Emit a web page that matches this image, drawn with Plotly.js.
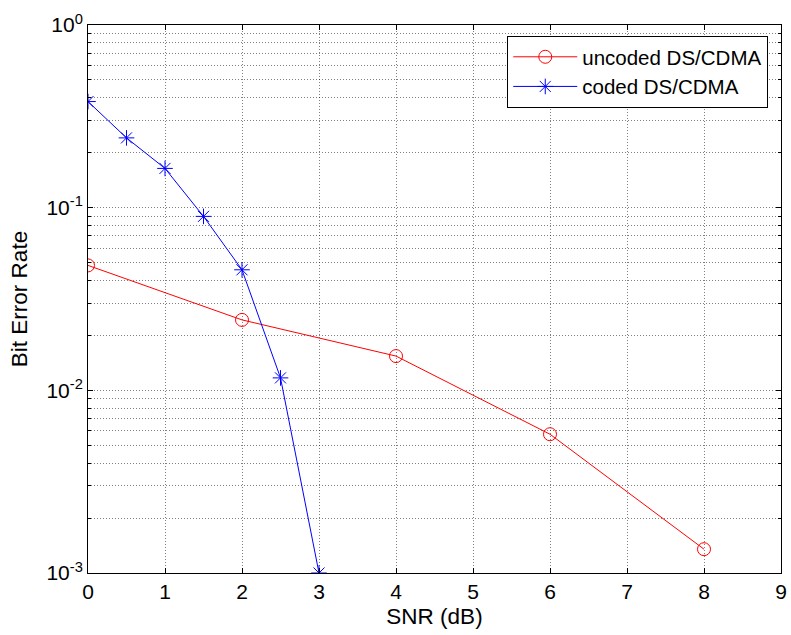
<!DOCTYPE html>
<html>
<head>
<meta charset="utf-8">
<script src="https://cdn.plot.ly/plotly-3.0.1.min.js"></script>
<style>html,body{margin:0;padding:0;background:#fff;}#chart{width:791px;height:635px;}</style>
</head>
<body>
<div id="chart"></div>
<script>
const uncodedSNR = [0, 2, 4, 6, 8];
const uncodedBER = [0.0483, 0.0243, 0.0154, 0.00575, 0.00135];
const codedSNR = [0, 0.5, 1, 1.5, 2, 2.5, 3];
const codedBER = [0.381, 0.241, 0.164, 0.0896, 0.0457, 0.0117, 0.001];
const xTicks = [0, 1, 2, 3, 4, 5, 6, 7, 8, 9];
const yTickVals = [0.001, 0.01, 0.1, 1];
const yTickText = ['10<sup>-3</sup>', '10<sup>-2</sup>', '10<sup>-1</sup>', '10<sup>0</sup>'];
const yMinorVals = [];
[0.001, 0.01, 0.1].forEach(d => { for (let k = 2; k <= 9; k++) yMinorVals.push(+(d * k).toPrecision(3)); });

const fam = 'Liberation Sans, Arial, sans-serif';
const font = {family: fam, size: 21, color: '#000'};
const legendFont = {family: fam, size: 20.5, color: '#000'};
const titleFont = {family: fam, size: 22.5, color: '#000'};
const gridColor = 'rgba(0,0,0,0.5)';
const gridDash = '1px,2px';

const traces = [
  {x: uncodedSNR, y: uncodedBER, name: 'uncoded DS/CDMA', mode: 'lines+markers',
   line: {color: '#ff0000', width: 1}, marker: {symbol: 'circle-open', size: 13, color: '#ff0000', line: {width: 1}}},
  {x: codedSNR, y: codedBER, name: 'coded DS/CDMA', mode: 'lines+markers',
   line: {color: '#0000ff', width: 1}, marker: {symbol: 'asterisk-open', size: 13, color: '#0000ff', line: {width: 1}}}
];

const layout = {
  width: 791, height: 635,
  margin: {l: 88, r: 10, t: 25, b: 62},
  paper_bgcolor: '#fff', plot_bgcolor: '#fff',
  font: font,
  showlegend: true,
  legend: {x: 0.605, y: 0.98, xanchor: 'left', yanchor: 'top', bgcolor: '#fff',
           bordercolor: '#000', borderwidth: 1, font: legendFont, itemwidth: 64, tracegroupgap: 0},
  xaxis: {range: [0, 9], tickvals: xTicks, ticks: 'inside', ticklen: 5, tickcolor: '#000',
          showline: true, linecolor: '#000', linewidth: 1, mirror: 'allticks',
          showgrid: true, gridcolor: gridColor, griddash: gridDash, gridwidth: 1, zeroline: false,
          tickfont: font, title: {text: 'SNR (dB)', font: titleFont, standoff: 6}},
  yaxis: {type: 'log', range: [-3, 0], tickvals: yTickVals, ticktext: yTickText,
          ticks: 'inside', ticklen: 5, tickcolor: '#000',
          showline: true, linecolor: '#000', linewidth: 1, mirror: 'allticks',
          showgrid: true, gridcolor: gridColor, griddash: gridDash, gridwidth: 1, zeroline: false,
          tickfont: font, title: {text: 'Bit Error Rate', font: titleFont, standoff: 12},
          minor: {tickvals: yMinorVals, ticks: 'inside', ticklen: 3, tickcolor: '#000',
                  showgrid: true, gridcolor: gridColor, griddash: gridDash, gridwidth: 1}}
};

Plotly.newPlot('chart', traces, layout, {displayModeBar: false, staticPlot: true});
</script>
</body>
</html>
